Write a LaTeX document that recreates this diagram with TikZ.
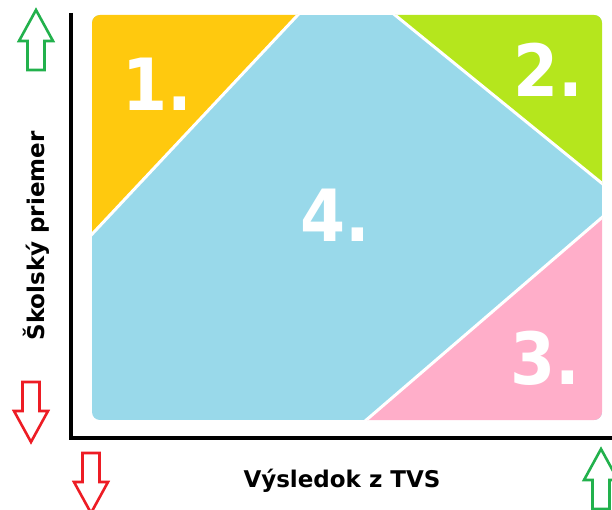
\documentclass[tikz,border=0pt]{standalone}
\usepackage{fontspec}
\setmainfont{DejaVu Sans}
\newfontfamily\numfont{DejaVu Sans Condensed}
\usepackage{xcolor}
\usepackage{tikz}
\usetikzlibrary{positioning}

\definecolor{gold}{HTML}{FFC90E}
\definecolor{lime}{HTML}{B5E61D}
\definecolor{rose}{HTML}{FFAEC9}
\definecolor{turq}{HTML}{99D9EA}
\definecolor{arrgreen}{HTML}{22B14C}
\definecolor{arrred}{HTML}{ED1C24}

\begin{document}
\begin{tikzpicture}[
    x=1pt, y=-1pt,
    zone/.style={fill=#1, draw=none},
    split/.style={draw=white, line width=3pt},
    num/.style={text=white, font=\numfont\bfseries\fontsize{72}{78}\selectfont, inner sep=0pt},
    axislabel/.style={font=\bfseries\fontsize{23}{27}\selectfont, inner sep=0pt},
    fat arrow/.pic={
        \draw[pic actions, line width=2.6pt, fill=white, line join=miter]
            (0,0) -- (17,31) -- (8.5,31) -- (8.5,60) -- (-8.5,60) -- (-8.5,31) -- (-17,31) -- cycle;
    },
]
\useasboundingbox (0,0) rectangle (612,510);

% regions
\begin{scope}
    \clip[rounded corners=8pt] (92,15) rectangle (602,420);
    \fill[zone=turq] (92,15) rectangle (602,420);
    \fill[zone=gold] (80,15) -- (298,15) -- (80,247) -- cycle;
    \fill[zone=lime] (395,15) -- (620,15) -- (620,198) -- cycle;
    \fill[zone=rose] (620,202) -- (620,420) -- (367,420) -- cycle;
    \draw[split] (310,2) -- (80,247);
    \draw[split] (379,2) -- (620,198);
    \draw[split] (620,202) -- (350,434);
\end{scope}

\node[num] (one) at (157,84) {1.};
\node[num] (two) at (548,70) {2.};
\node[num] (three) at (545,358) {3.};
\node[num] (four) at (335,215) {4.};

% axes
\draw[line width=3.2pt] (71,13) -- (71,438) -- (612,438);
\node[axislabel, rotate=90] (ylabel) at (36,236) {Školský priemer};
\node[axislabel, anchor=base] (xlabel) at (342,487) {Výsledok z TVS};

% arrows
\pic[draw=arrgreen] at (36,10) {fat arrow};
\pic[draw=arrred, rotate=180] at (31,442) {fat arrow};
\pic[draw=arrred, rotate=180] at (91,513) {fat arrow};
\pic[draw=arrgreen] at (601,449) {fat arrow};

\end{tikzpicture}
\end{document}
